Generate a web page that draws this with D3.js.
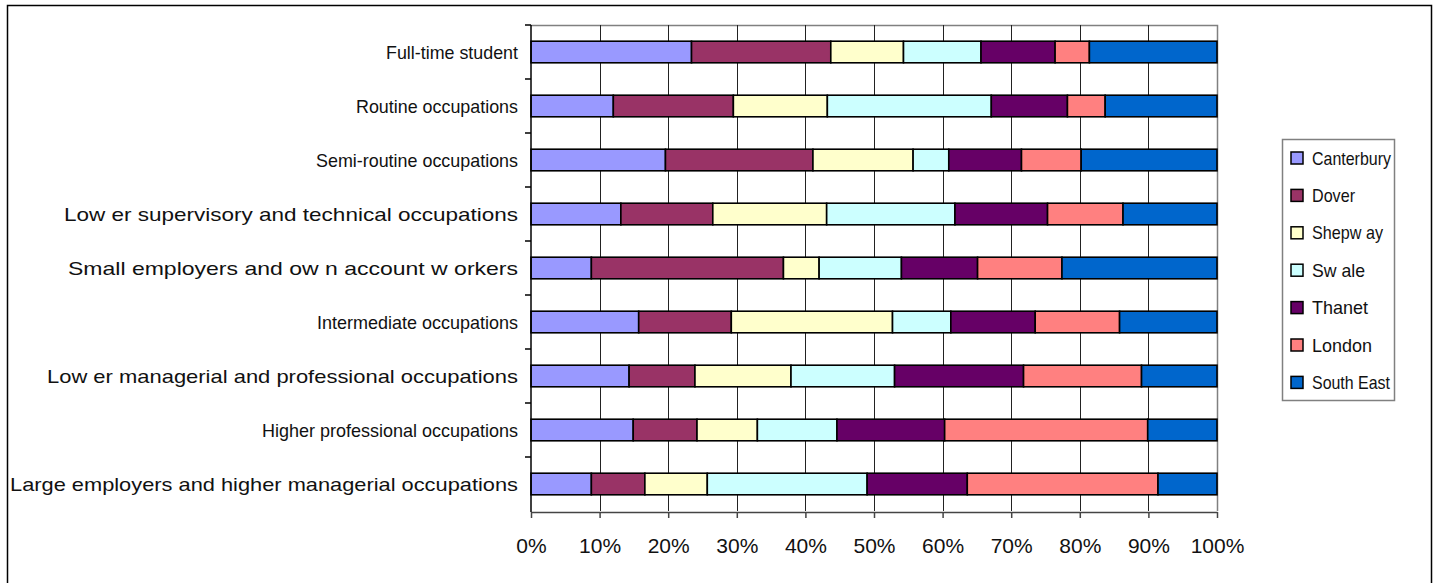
<!DOCTYPE html>
<html>
<head>
<meta charset="utf-8">
<script src="https://cdn.jsdelivr.net/npm/d3@7"></script>
<style>
  body { margin: 0; background: #fff; }
  svg { display: block; font-family: "Liberation Sans", Arial, sans-serif; }
</style>
</head>
<body>
<svg id="canvas"></svg>
<script>
let categories = [
  "Full-time student",
  "Routine occupations",
  "Semi-routine occupations",
  "Low er supervisory and technical occupations",
  "Small employers and ow n account w orkers",
  "Intermediate occupations",
  "Low er managerial and professional occupations",
  "Higher professional occupations",
  "Large employers and higher managerial occupations"
];

let seriesNames = ["Canterbury", "Dover", "Shepw ay", "Sw ale", "Thanet", "London", "South East"];
let seriesColors = ["#9999FF", "#993366", "#FFFFCC", "#CCFFFF", "#660066", "#FF8080", "#0066CC"];

// percent shares, one array per district, same order as categories
let canterbury = [23.4, 12.0, 19.6, 13.1, 8.8, 15.7, 14.3, 14.9, 8.8];
let dover      = [20.3, 17.5, 21.5, 13.4, 28.0, 13.5, 9.6, 9.3, 7.8];
let shepway    = [10.6, 13.7, 14.6, 16.6, 5.2, 23.5, 14.0, 8.8, 9.1];
let swale      = [11.3, 23.9, 5.2, 18.7, 12.0, 8.5, 15.1, 11.6, 23.3];
let thanet     = [10.8, 11.1, 10.6, 13.5, 11.1, 12.3, 18.8, 15.7, 14.6];
let london     = [5.0, 5.5, 8.7, 11.0, 12.3, 12.3, 17.2, 29.6, 27.8];
let southEast  = [18.6, 16.3, 19.8, 13.7, 22.6, 14.2, 11.0, 10.1, 8.6];

let xTicks = [0, 0.1, 0.2, 0.3, 0.4, 0.5, 0.6, 0.7, 0.8, 0.9, 1];

// rendered text widths in the source picture (its text is stretched per string)
let labelWidths = [132, 162, 202, 454, 450, 201, 471, 256, 508];
let legendWidths = [79, 43, 71, 53, 56, 60, 78];

let width = 1440;
let height = 583;
let plot = { left: 531, right: 1217, top: 25, bottom: 511 };

let canvas = d3.select("#canvas").attr("width", width).attr("height", height);

// outer chart border
canvas.append("rect")
  .attr("x", 7.5).attr("y", 5.5)
  .attr("width", 1424).attr("height", 600)
  .attr("fill", "none").attr("stroke", "#000").attr("stroke-width", 1.5);

let allSeries = [canterbury, dover, shepway, swale, thanet, london, southEast];
let rows = categories.map((c, i) => {
  let row = { category: c };
  seriesNames.forEach((s, j) => { row[s] = allSeries[j][i]; });
  return row;
});

let stacked = d3.stack().keys(seriesNames).offset(d3.stackOffsetExpand)(rows);

let xScale = d3.scaleLinear().domain([0, 1]).range([plot.left, plot.right]);
let yScale = d3.scaleBand().domain(categories).range([plot.top, plot.bottom])
  .paddingInner(0.6).paddingOuter(0.3);
let bandScale = d3.scaleBand().domain(categories).range([plot.top, plot.bottom]);

// plot frame (top / right)
canvas.append("path")
  .attr("d", `M${plot.left},${plot.top + 0.5}H${plot.right + 0.5}V${plot.bottom}`)
  .attr("fill", "none").attr("stroke", "#808080").attr("stroke-width", 1.5);

// gridlines
canvas.append("g")
  .selectAll("line")
  .data(xTicks.slice(1, -1))
  .enter()
  .append("line")
  .attr("x1", (d) => Math.round(xScale(d)) + 0.5)
  .attr("x2", (d) => Math.round(xScale(d)) + 0.5)
  .attr("y1", plot.top)
  .attr("y2", plot.bottom)
  .attr("stroke", "#222")
  .attr("stroke-width", 1);

// bars
canvas.append("g")
  .selectAll("g")
  .data(stacked)
  .enter()
  .append("g")
  .attr("fill", (d, i) => seriesColors[i])
  .selectAll("rect")
  .data((d) => d)
  .enter()
  .append("rect")
  .attr("x", (d) => xScale(d[0]))
  .attr("width", (d) => xScale(d[1]) - xScale(d[0]))
  .attr("y", (d) => yScale(d.data.category))
  .attr("height", yScale.bandwidth())
  .attr("stroke", "#000")
  .attr("stroke-width", 1.6);

// x axis
let xAxis = d3.axisBottom(xScale).tickValues(xTicks).tickFormat(d3.format(".0%"))
  .tickSize(6).tickSizeOuter(0).tickPadding(20);
let gx = canvas.append("g")
  .attr("transform", "translate(0," + (plot.bottom + 1) + ")")
  .call(xAxis);
gx.select(".domain").attr("stroke", "#444").attr("stroke-width", 1.5);
gx.selectAll(".tick line").attr("stroke", "#444").attr("stroke-width", 1.5);
gx.selectAll("text").attr("font-size", 21).attr("fill", "#111")
  .attr("font-family", "Liberation Sans, Arial, sans-serif");

// y axis: ticks between categories
let yAxisG = canvas.append("g");
yAxisG.append("line")
  .attr("x1", plot.left).attr("x2", plot.left)
  .attr("y1", plot.top).attr("y2", plot.bottom + 1)
  .attr("stroke", "#000").attr("stroke-width", 1.5);
yAxisG.selectAll("line.tk")
  .data(categories)
  .enter()
  .append("line")
  .attr("class", "tk")
  .attr("x1", plot.left - 6).attr("x2", plot.left)
  .attr("y1", (d) => bandScale(d))
  .attr("y2", (d) => bandScale(d))
  .attr("stroke", "#000").attr("stroke-width", 1.5);
yAxisG.selectAll("text")
  .data(categories)
  .enter()
  .append("text")
  .attr("x", plot.left - 13)
  .attr("y", (d) => bandScale(d) + bandScale.bandwidth() / 2)
  .attr("dy", "0.35em")
  .attr("text-anchor", "end")
  .attr("font-size", 19)
  .attr("fill", "#111")
  .attr("textLength", (d, i) => labelWidths[i])
  .attr("lengthAdjust", "spacingAndGlyphs")
  .text((d) => d);

// legend
let legend = canvas.append("g");
legend.append("rect")
  .attr("x", 1282.5).attr("y", 139.5)
  .attr("width", 112).attr("height", 261)
  .attr("fill", "#fff").attr("stroke", "#808080").attr("stroke-width", 1.5);
let item = legend.selectAll("g.item")
  .data(seriesNames)
  .enter()
  .append("g")
  .attr("class", "item")
  .attr("transform", (d, i) => "translate(1291," + (158 + i * 37.4) + ")");
item.append("rect")
  .attr("x", 0).attr("y", -6)
  .attr("width", 12).attr("height", 12)
  .attr("fill", (d, i) => seriesColors[i])
  .attr("stroke", "#000").attr("stroke-width", 1.5);
item.append("text")
  .attr("x", 21).attr("dy", "0.35em")
  .attr("font-size", 19)
  .attr("fill", "#111")
  .attr("textLength", (d, i) => legendWidths[i])
  .attr("lengthAdjust", "spacingAndGlyphs")
  .text((d) => d);
</script>
</body>
</html>
